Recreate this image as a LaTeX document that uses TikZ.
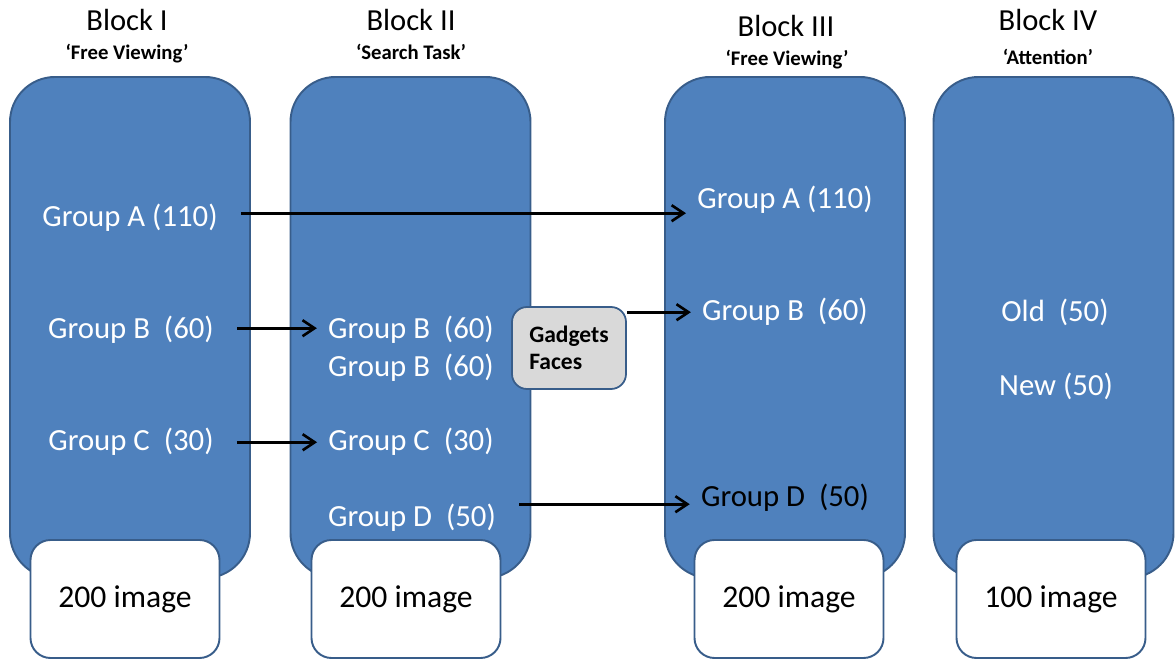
\documentclass[tikz,border=0pt]{standalone}
\usepackage{fontspec}
\setmainfont{Carlito}
\usetikzlibrary{positioning,arrows.meta}
\definecolor{bfill}{HTML}{4F81BD}
\definecolor{bedge}{HTML}{385D8A}
\definecolor{gfill}{HTML}{D9D9D9}

\begin{document}
\begin{tikzpicture}[x=0.2mm, y=-0.2mm, >={Straight Barb[length=2.4mm,width=3.2mm]}, inner sep=0pt,
   blk/.style={draw=bedge, line width=1.1pt, fill=bfill, rounded corners=9mm, minimum width=48mm, minimum height=100.2mm},
   cnt/.style={draw=bedge, line width=1.1pt, fill=white, rounded corners=4mm, minimum width=37.8mm, minimum height=23.6mm, font=\fontsize{18}{20}\selectfont},
   ttl/.style={anchor=base, font=\fontsize{17.4}{20}\selectfont},
   sub/.style={anchor=base, font=\bfseries\fontsize{11.8}{14}\selectfont},
   grp/.style={anchor=base, text=white, font=\fontsize{17.5}{20}\selectfont},
   link/.style={->, line width=1.5pt, shorten <=4.6mm, shorten >=2.2mm}]
  \useasboundingbox (0,0) rectangle (1175,661);
  \node[blk] (b1) at (130,327.5) {};
  \node[blk] (b2) at (410.5,327.5) {};
  \node[blk] (b3) at (785,327.5) {};
  \node[blk] (b4) at (1053.5,327.5) {};
  \node[cnt] (n1) at (125,599) {200 image};
  \node[cnt] (n2) at (406,599) {200 image};
  \node[cnt] (n3) at (789,599) {200 image};
  \node[cnt] (n4) at (1051,599) {100 image};
  \node[ttl] (t1) at (127,31) {Block I};
  \node[ttl] (t2) at (411,31) {Block II};
  \node[ttl] (t3) at (786,37) {Block III};
  \node[ttl] (t4) at (1048,31) {Block IV};
  \node[sub] (s1) at (127,60) {‘Free Viewing’};
  \node[sub] (s2) at (411,60) {‘Search Task’};
  \node[sub] (s3) at (787,66) {‘Free Viewing’};
  \node[sub] (s4) at (1048,65) {‘Attention’};
  \node[grp] (a1) at (130,227) {Group A (110)};
  \node[grp] (g1b) at (131,339) {Group B\ \ (60)};
  \node[grp] (c1) at (131,451) {Group C\ \ (30)};
  \node[grp] (g2b) at (411,339) {Group B\ \ (60)};
  \node[grp] (g2bb) at (411,377) {Group B\ \ (60)};
  \node[grp] (c2) at (411,451) {Group C\ \ (30)};
  \node[grp] (d2) at (412,526) {Group D\ \ (50)};
  \node[grp] (a3) at (785,209) {Group A (110)};
  \node[grp] (g3b) at (785,321) {Group B\ \ (60)};
  \node[grp, text=black] (d3) at (785,507) {Group D\ \ (50)};
  \node[grp] (old) at (1055,322) {Old\ \ (50)};
  \node[grp] (new) at (1056,396) {New (50)};
  \node[draw=bedge, line width=1pt, fill=gfill, rounded corners=3mm, minimum width=22.8mm, minimum height=16.4mm,
        align=left, font=\bfseries\fontsize{13.4}{15.4}\selectfont] (gf) at (569,348) {Gadgets\\Faces};
  \draw[link] ([yshift=1mm]a1.east) -- ([yshift=1mm]a1.east -| a3.west);
  \draw[link] ([yshift=0.4mm]g1b.east) -- ([yshift=0.4mm]g2b.west);
  \draw[link] (c1) -- (c2);
  \draw[link] ([yshift=-1.2mm]d3.west -| d2.east) -- ([yshift=-1.2mm]d3.west);
  \draw[link, shorten <=0pt] (g3b.west -| gf.east) -- (g3b.west);
\end{tikzpicture}
\end{document}
